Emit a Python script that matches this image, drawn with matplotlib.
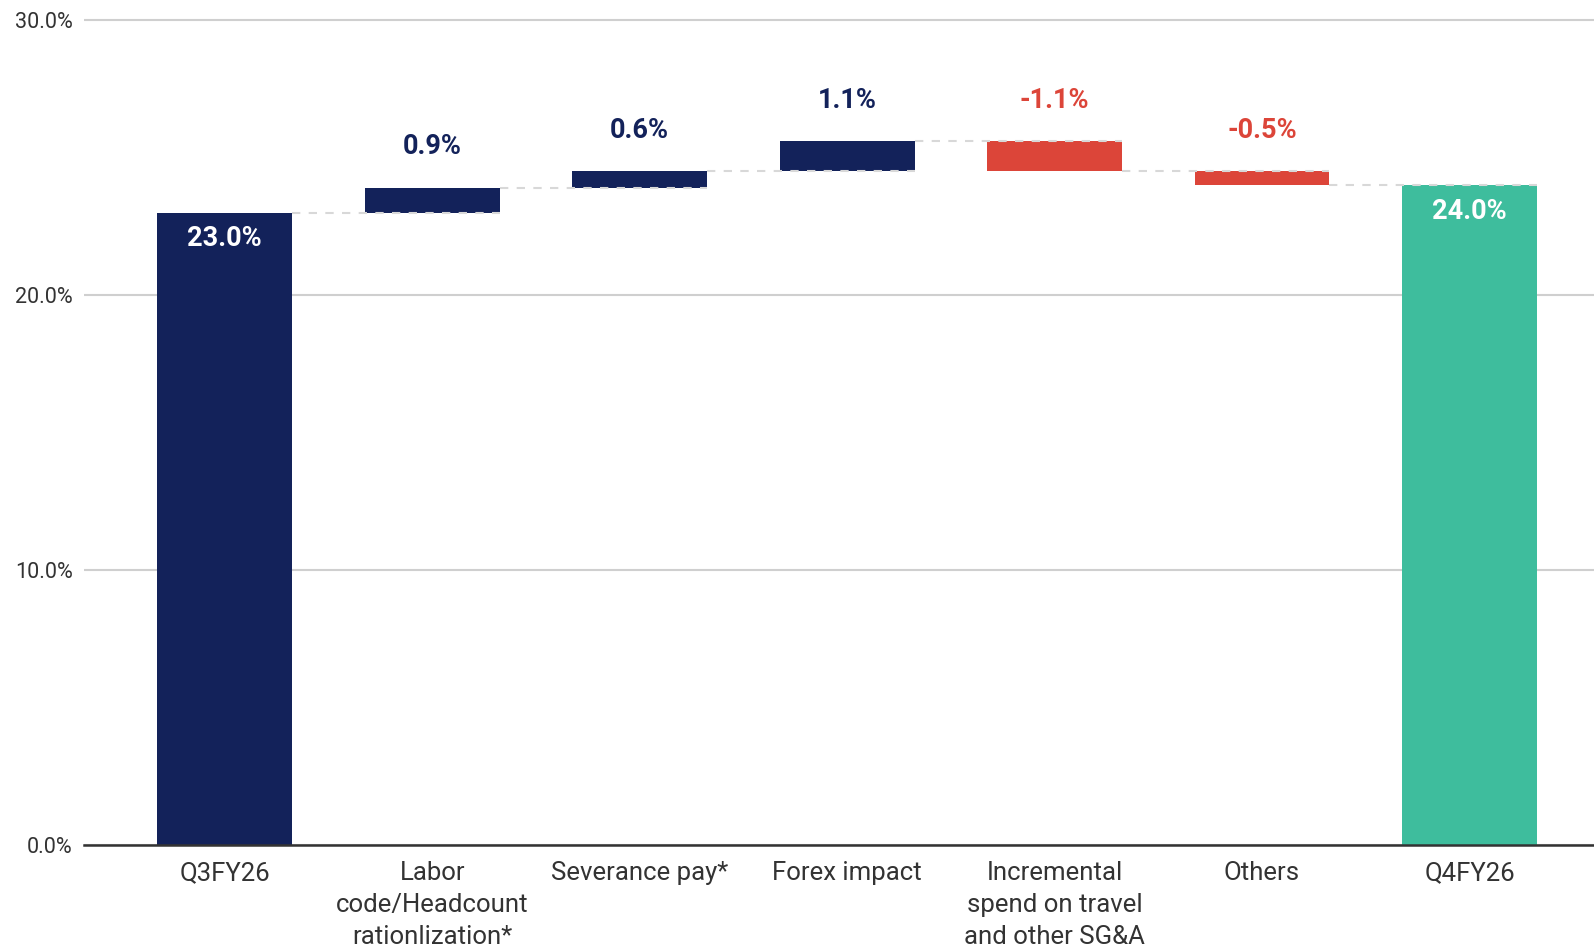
import matplotlib
matplotlib.use("Agg")
import matplotlib.pyplot as plt
import numpy as np

# bridge from Q3FY26 to Q4FY26 margin, in percentage points
categories = ["Q3FY26", "Labor\ncode/Headcount\nrationlization*", "Severance pay*",
              "Forex impact", "Incremental\nspend on travel\nand other SG&A", "Others", "Q4FY26"]
start_value = 23.0
deltas = [0.9, 0.6, 1.1, -1.1, -0.5]
end_value = 24.0
y_ticks = [0, 10, 20, 30]

NAVY = "#13225A"
RED = "#DC4539"
TEAL = "#3EBD9D"
GRID = "#CFCFCF"
TEXT = "#333333"

plt.rcParams["font.family"] = ["Roboto", "DejaVu Sans"]

fig = plt.figure(figsize=(15.94, 9.49), dpi=100)
ax = fig.add_axes([0.053, 0.1096, 0.947, 0.8777])

width = 0.65
x = np.arange(len(categories))

# running levels for the floating bars
levels = [start_value]
for d in deltas:
    levels.append(levels[-1] + d)

# totals
ax.bar(x[0], start_value, width, color=NAVY, zorder=2)
ax.bar(x[-1], end_value, width, color=TEAL, zorder=2)

# floating deltas
for i, d in enumerate(deltas, start=1):
    base = levels[i - 1]
    color = NAVY if d >= 0 else RED
    ax.bar(x[i], d, width, bottom=base, color=color, zorder=2)
    top = max(base, base + d)
    ax.text(x[i], top + 1.5, f"{d:.1f}%", ha="center", va="center",
            fontsize=19.5, fontweight="bold", color=color, zorder=4)

# dashed connectors between steps
for i, lvl in enumerate(levels):
    ax.plot([x[i] + width / 2, x[i + 1] + width / 2], [lvl, lvl],
            ls=(0, (4, 4)), color="#D8D8D8", lw=1.5, zorder=3)

for xi, val in [(x[0], start_value), (x[-1], end_value)]:
    ax.text(xi, val - 0.95, f"{val:.1f}%", ha="center", va="center",
            fontsize=19.5, fontweight="bold", color="white", zorder=4)

ax.set_xlim(-0.676, 6.60)
ax.set_ylim(0, 30.3)
ax.set_yticks(y_ticks)
ax.set_yticklabels([f"{v:.1f}%" for v in y_ticks])
ax.set_xticks(x)
ax.set_xticklabels(categories, linespacing=1.43)

ax.yaxis.grid(True, color=GRID, lw=1.5, zorder=0)
ax.set_axisbelow(True)
for s in ["top", "right", "left"]:
    ax.spines[s].set_visible(False)
ax.spines["bottom"].set_color("#333333")
ax.spines["bottom"].set_linewidth(1.8)
ax.spines["bottom"].set_zorder(5)

ax.tick_params(axis="y", length=0, pad=8.5, labelsize=15.5, labelcolor=TEXT)
ax.tick_params(axis="x", length=0, pad=11.5, labelsize=18.5, labelcolor=TEXT)

fig.savefig("out.png", dpi=100, facecolor="white")
